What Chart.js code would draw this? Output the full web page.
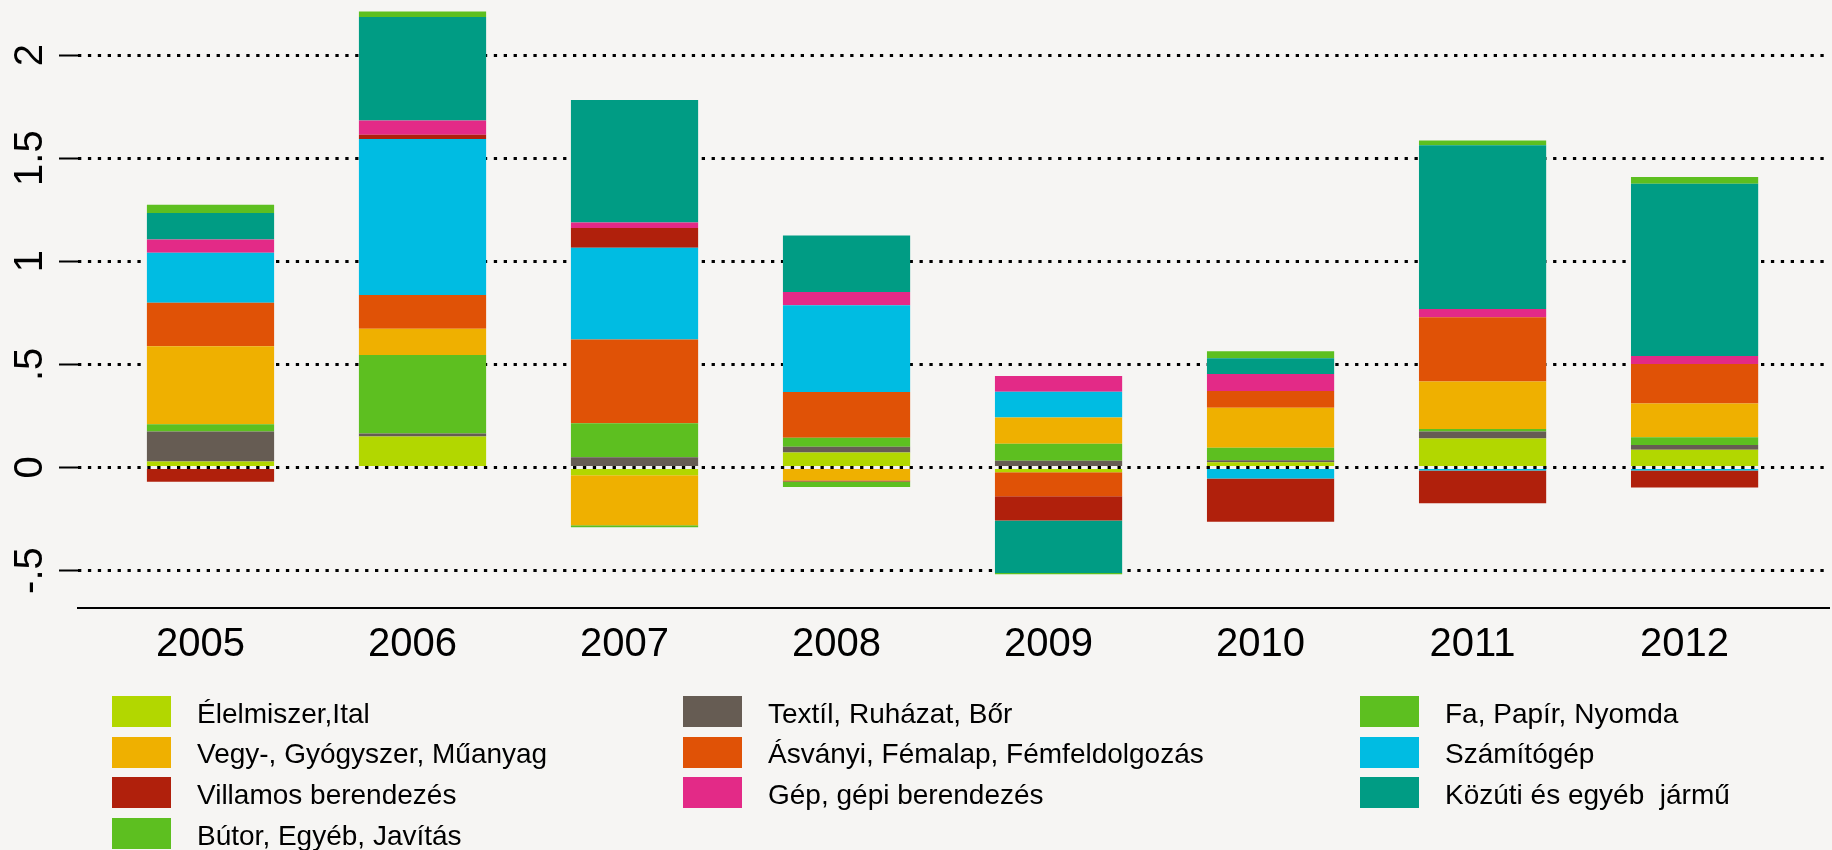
<!DOCTYPE html>
<html>
<head>
<meta charset="utf-8">
<script src="https://cdn.jsdelivr.net/npm/chart.js@4.4.1/dist/chart.umd.min.js"></script>
<style>
body { margin: 0; background: #f6f5f3; }
#wrap { position: relative; width: 1832px; height: 850px; }
#legend { position: absolute; left: 0; top: 0; font-family: "Liberation Sans", Arial, sans-serif; font-size: 28px; color: #000; }
.item { position: absolute; display: flex; align-items: center; height: 31px; white-space: pre; }
.swatch { width: 59px; height: 31px; margin-right: 26px; }
.label { padding-top: 4px; white-space: pre; }
</style>
</head>
<body>
<div id="wrap">
  <canvas id="myChart"></canvas>
  <div id="legend"></div>
</div>
<script>
// évek és tengelyfeliratok
var years = [2005, 2006, 2007, 2008, 2009, 2010, 2011, 2012];
var yTickValues = [-0.5, 0, 0.5, 1, 1.5, 2];
var yTickLabels = ['-.5', '0', '.5', '1', '1.5', '2'];

// ágazatonkénti hozzájárulás
var elelmiszer  = [0.029, 0.150, -0.038, 0.073, -0.023, 0.025, 0.140, 0.086];
var textil      = [0.146, 0.015, 0.050, 0.027, 0.033, 0.010, 0.035, 0.023];
var fa          = [0.035, 0.380, 0.165, 0.044, 0.082, 0.061, 0.012, 0.038];
var vegy        = [0.378, 0.128, -0.242, -0.063, 0.127, 0.194, 0.230, 0.163];
var asvanyi     = [0.211, 0.163, 0.405, 0.222, -0.117, 0.081, 0.311, 0.192];
var szamitogep  = [0.242, 0.757, 0.445, 0.420, 0.125, -0.054, -0.015, -0.015];
var villamos    = [-0.069, 0.020, 0.096, -0.005, -0.117, -0.209, -0.159, -0.082];
var gep         = [0.065, 0.069, 0.027, 0.065, 0.077, 0.082, 0.040, 0.038];
var kozuti      = [0.128, 0.502, 0.594, 0.274, -0.255, 0.077, 0.794, 0.836];
var butor       = [0.040, 0.027, -0.010, -0.027, -0.006, 0.033, 0.023, 0.033];

var seriesNames = ['Élelmiszer,Ital', 'Textíl, Ruházat, Bőr', 'Fa, Papír, Nyomda',
    'Vegy-, Gyógyszer, Műanyag', 'Ásványi, Fémalap, Fémfeldolgozás', 'Számítógép',
    'Villamos berendezés', 'Gép, gépi berendezés', 'Közúti és egyéb  jármű',
    'Bútor, Egyéb, Javítás'];
var seriesData = [elelmiszer, textil, fa, vegy, asvanyi, szamitogep, villamos, gep, kozuti, butor];
var seriesColors = ['#b2d700', '#665c53', '#5dbf20', '#efb000', '#e05206', '#00bce2',
    '#b0200c', '#e32a87', '#009c84', '#5dbf20'];

Chart.defaults.font.family = "'Liberation Sans', Arial, sans-serif";
Chart.defaults.color = '#000';

var datasets = [];
for (var i = 0; i < seriesData.length; i++) {
    datasets.push({
        label: seriesNames[i],
        data: seriesData[i],
        backgroundColor: seriesColors[i],
        borderWidth: 0,
        barPercentage: 0.6,
        categoryPercentage: 1
    });
}

var canvas = document.getElementById('myChart');
canvas.width = 1832;
canvas.height = 850;

var myChart = new Chart(canvas.getContext('2d'), {
    type: 'bar',
    data: { labels: years, datasets: datasets },
    options: {
        responsive: false,
        animation: false,
        layout: { padding: { top: 5, right: 3, left: 0, bottom: 0 } },
        plugins: { legend: { display: false }, tooltip: { enabled: false } },
        scales: {
            x: {
                type: 'linear',
                stacked: true,
                offset: false,
                min: 2004.375,
                max: 2012.634,
                grid: { display: false, drawTicks: false },
                border: { display: true, color: '#000', width: 2 },
                ticks: {
                    font: { size: 40 },
                    padding: 13,
                    labelOffset: -10,
                    maxRotation: 0,
                    callback: function(value) { return String(value); }
                },
                afterBuildTicks: function(axis) {
                    axis.ticks = years.map(function(v) { return { value: v }; });
                },
                afterFit: function(axis) {
                    axis.height = 242.5;
                    axis.paddingLeft = 0;
                    axis.paddingRight = 0;
                }
            },
            y: {
                stacked: true,
                min: -0.679,
                max: 2.2425,
                grid: {
                    color: '#000',
                    lineWidth: 3,
                    tickLength: 19,
                    tickWidth: 2,
                    tickColor: '#000',
                    tickBorderDash: []
                },
                border: { display: false, dash: [3.3, 6.6] },
                ticks: {
                    font: { size: 40 },
                    padding: 0,
                    minRotation: 90,
                    maxRotation: 90,
                    crossAlign: 'center',
                    callback: function(value) { return yTickLabels[yTickValues.indexOf(value)]; }
                },
                afterBuildTicks: function(axis) {
                    axis.ticks = yTickValues.map(function(v) { return { value: v }; });
                },
                afterFit: function(axis) {
                    axis.width = 78;
                    axis.paddingTop = 0;
                    axis.paddingBottom = 0;
                }
            }
        }
    }
});

// jelmagyarázat: 3 oszlop, soronként töltve
function buildLegend(chart) {
    var legend = document.getElementById('legend');
    var colLeft = [112, 683, 1360];
    legend.innerHTML = '';
    chart.data.datasets.forEach(function(ds, idx) {
        var item = document.createElement('div');
        item.className = 'item';
        item.style.left = colLeft[idx % 3] + 'px';
        item.style.top = (696 + Math.floor(idx / 3) * 40.7) + 'px';
        var sw = document.createElement('div');
        sw.className = 'swatch';
        sw.style.background = ds.backgroundColor;
        var txt = document.createElement('span');
        txt.className = 'label';
        txt.textContent = ds.label;
        item.appendChild(sw);
        item.appendChild(txt);
        legend.appendChild(item);
    });
}
buildLegend(myChart);
</script>
</body>
</html>
